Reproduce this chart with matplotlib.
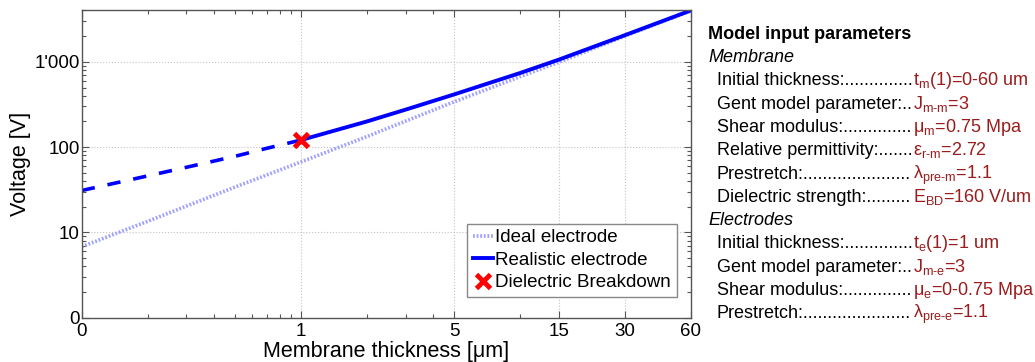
import matplotlib
matplotlib.use('Agg')
import matplotlib.pyplot as plt
from matplotlib.ticker import FixedLocator, NullFormatter, LogLocator

plt.rcParams['font.family'] = ['Liberation Sans', 'DejaVu Sans']
plt.rcParams['mathtext.fontset'] = 'custom'
plt.rcParams['mathtext.rm'] = 'Liberation Sans'
plt.rcParams['mathtext.it'] = 'Liberation Sans:italic'
plt.rcParams['mathtext.bf'] = 'Liberation Sans:bold'

# values (thickness in um, voltage in V)
t_ideal = [0.1, 0.2, 0.5, 1, 2, 5, 10, 15, 30, 60]
v_ideal = [6.8, 13.5, 34, 67, 133, 340, 670, 990, 2000, 3950]

t_real_pre = [0.1, 0.2, 0.3, 0.5, 0.7, 1]
v_real_pre = [31, 46, 58, 78, 97, 121]

t_real = [1, 2, 3, 5, 10, 15, 30, 60]
v_real = [121, 200, 275, 415, 740, 1060, 2050, 4000]

t_bd = [1]
v_bd = [121]

x_ticks = [0.1, 1, 5, 15, 30, 60]
x_ticklabels = ['0', '1', '5', '15', '30', '60']
x_minor = [0.2, 0.3, 0.4, 0.5, 0.6, 0.7, 0.8, 0.9, 2, 3, 4, 10]
y_ticks = [1, 10, 100, 1000]
y_ticklabels = ['0', '10', '100', "1'000"]

# right-hand parameter list
membrane_params = [
    ('Initial thickness:', r't$_{\text{m}}$(1)=0-60 um'),
    ('Gent model parameter:', r'J$_{\text{m-m}}$=3'),
    ('Shear modulus:', r'μ$_{\text{m}}$=0.75 Mpa'),
    ('Relative permittivity:', r'ε$_{\text{r-m}}$=2.72'),
    ('Prestretch:', r'λ$_{\text{pre-m}}$=1.1'),
    ('Dielectric strength:', r'E$_{\text{BD}}$=160 V/um'),
]
electrode_params = [
    ('Initial thickness:', r't$_{\text{e}}$(1)=1 um'),
    ('Gent model parameter:', r'J$_{\text{m-e}}$=3'),
    ('Shear modulus:', r'μ$_{\text{e}}$=0-0.75 Mpa'),
    ('Prestretch:', r'λ$_{\text{pre-e}}$=1.1'),
]

W, H = 1035, 362
fig = plt.figure(figsize=(W / 100, H / 100), dpi=100)
ax = fig.add_axes([81.7 / W, (H - 317.7) / H, 609 / W, 307.2 / H])

ax.plot(t_ideal, v_ideal, color='#a0a0ff', lw=2.6, linestyle=(0, (0.5, 0.5)),
        label='Ideal electrode')
ax.plot(t_real_pre, v_real_pre, color='#0000ff', lw=2.6, linestyle=(0, (3.7, 3.6)))
ax.plot(t_real, v_real, color='#0000ff', lw=2.8, label='Realistic electrode')
ax.plot(t_bd, v_bd, 'x', color='red', ms=10, mew=3.5, label='Dielectric Breakdown')

ax.set_xscale('log')
ax.set_yscale('log')
ax.set_xlim(0.1, 60)
ax.set_ylim(1, 4000)

ax.xaxis.set_major_locator(FixedLocator(x_ticks))
ax.set_xticklabels(x_ticklabels)
ax.xaxis.set_minor_locator(FixedLocator(x_minor))
ax.xaxis.set_minor_formatter(NullFormatter())
ax.yaxis.set_major_locator(FixedLocator(y_ticks))
ax.set_yticklabels(y_ticklabels)
ax.yaxis.set_minor_locator(LogLocator(base=10, subs=range(2, 10), numticks=20))
ax.yaxis.set_minor_formatter(NullFormatter())

ax.tick_params(which='both', direction='in', top=True, right=True, color='#555555',
               labelsize=13.5)
ax.tick_params(which='major', length=5, width=0.8)
ax.tick_params(which='minor', length=3, width=0.8)
ax.tick_params(axis='x', pad=4)
ax.tick_params(axis='y', pad=1.5)
for sp in ax.spines.values():
    sp.set_color('#555555')
    sp.set_linewidth(1)
ax.grid(True, which='major', color='#c4c4c4', linestyle=':', lw=0.8)

ax.set_xlabel('Membrane thickness [μm]', fontsize=15.5)
ax.set_ylabel('Voltage [V]', fontsize=15.5)
ax.xaxis.set_label_coords(0.5, -0.075)
ax.yaxis.set_label_coords(-0.083, 0.5)

leg = ax.legend(loc='lower right', bbox_to_anchor=(0.977, 0.068), borderaxespad=0,
                fontsize=13.5, handlelength=1.1, handletextpad=0.1,
                borderpad=0.3, labelspacing=0.28, fancybox=False, framealpha=1)
leg.get_frame().set_edgecolor('#888888')
leg.get_frame().set_linewidth(1)

# parameter list
red = '#9b1c1c'
x_head, x_item, x_val = 708, 717, 913
y0, dy = 33.3, 23.3


def fy(y_px):
    return 1 - (y_px + 5.5) / H


fig.text(x_head / W, fy(y0), 'Model input parameters', fontsize=13, weight='bold',
         va='baseline')
fig.canvas.draw()
renderer = fig.canvas.get_renderer()


def block(title, rows, row0):
    fig.text(x_head / W, fy(y0 + dy * row0), title, fontsize=13, style='italic',
             va='baseline')
    for i, (lab, val) in enumerate(rows):
        y = fy(y0 + dy * (row0 + 1 + i))
        t = fig.text(x_item / W, y, lab, fontsize=13, va='baseline')
        # pad with dots up to the value column
        while True:
            t.set_text(t.get_text() + '.')
            if t.get_window_extent(renderer).x1 > x_val:
                t.set_text(t.get_text()[:-1])
                break
        fig.text(x_val / W, y, val, fontsize=13, color=red, va='baseline')


block('Membrane', membrane_params, 1)
block('Electrodes', electrode_params, 8)

fig.savefig('out.png', dpi=100)
